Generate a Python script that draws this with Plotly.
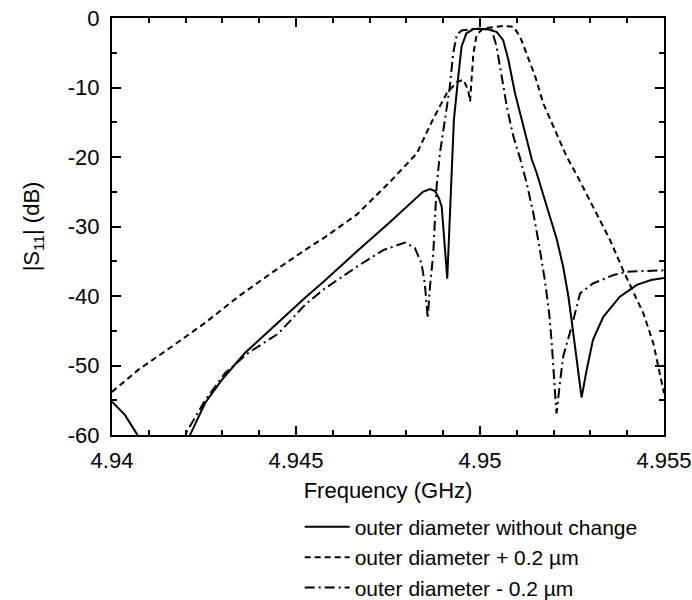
import plotly.graph_objects as go

# ---- data ----
freq_orig = [4.9400, 4.94035, 4.94067, 4.9409, None, 4.9420, 4.94212, 4.94253, 4.94298, 4.94361,
             4.94434, 4.94488, 4.94524, 4.94574, 4.94665, 4.94755, 4.94828, 4.94845, 4.94864,
             4.94878, 4.94889, 4.94896, 4.94911, 4.94918, 4.94929, 4.94941, 4.94950, 4.94963,
             4.94982, 4.95018, 4.95045, 4.95063, 4.95077, 4.95095, 4.95118, 4.95141, 4.95154,
             4.95181, 4.95209, 4.95226, 4.95240, 4.95249, 4.95262, 4.95276, 4.95290, 4.95307,
             4.95335, 4.95380, 4.95426, 4.95465, 4.95500]
s11_orig = [-55.2, -57.1, -59.8, -62.0, None, -62.0, -60.0, -55.4, -52.1, -48.2,
            -44.6, -42.0, -40.3, -38.0, -33.6, -29.4, -25.9, -25.0, -24.6,
            -24.9, -26.0, -27.2, -37.5, -29.1, -14.7, -8.4, -4.1, -2.2,
            -1.6, -1.6, -2.0, -3.2, -6.0, -10.8, -15.6, -20.4, -22.3,
            -27.2, -31.9, -35.8, -40.0, -43.5, -49.2, -54.6, -50.6, -46.3,
            -43.0, -40.1, -38.4, -37.7, -37.4]

freq_plus = [4.9400, 4.94072, 4.94162, 4.94252, 4.94343, 4.94433, 4.94524, 4.94574, 4.94665,
             4.94755, 4.94828, 4.94873, 4.94910, 4.94937, 4.94955, 4.94968, 4.94973, 4.94977,
             4.94982, 4.94991, 4.95009, 4.95063, 4.95091, 4.95109, 4.95127, 4.95150, 4.95172,
             4.95200, 4.95236, 4.95262, 4.95307, 4.95353, 4.95389, 4.95408, 4.95444, 4.95471,
             4.95485, 4.95500]
s11_plus = [-53.8, -50.6, -47.3, -43.9, -40.1, -36.7, -33.4, -31.7, -28.3,
            -23.6, -19.5, -14.5, -10.8, -9.2, -8.9, -10.4, -12.0, -8.4,
            -5.1, -2.4, -1.5, -1.15, -1.25, -2.7, -5.1, -8.4, -12.3,
            -15.6, -20.0, -22.5, -27.2, -31.9, -36.3, -38.5, -42.5, -46.8,
            -50.2, -54.0]

freq_minus = [4.94190, 4.94198, 4.94253, 4.94307, 4.94370, 4.94452, 4.94524, 4.94574, 4.94665,
              4.94737, 4.94796, 4.94823, 4.94841, 4.94850, 4.94858, 4.94864, 4.94873, 4.94882,
              4.94891, 4.94905, 4.94918, 4.94927, 4.94937, 4.94950, 4.94991, 4.95032, 4.95045,
              4.95059, 4.95073, 4.95091, 4.95109, 4.95127, 4.95145, 4.95163, 4.95177, 4.95188,
              4.95195, 4.95204, 4.95208, 4.95217, 4.95226, 4.95249, 4.95272, 4.95307, 4.95362,
              4.95398, 4.95471, 4.95500]
s11_minus = [-61.5, -60.0, -55.0, -51.1, -48.2, -45.4, -41.3, -39.1, -35.8,
             -33.4, -32.3, -33.1, -35.3, -38.2, -43.2, -38.7, -33.9, -24.3,
             -19.5, -14.7, -9.9, -5.1, -2.4, -1.8, -1.5, -1.7, -4.1,
             -8.4, -12.8, -17.1, -20.2, -23.8, -28.1, -33.4, -38.0, -42.5,
             -46.8, -54.0, -56.9, -52.6, -48.7, -44.4, -39.6, -38.2, -37.0,
             -36.5, -36.3, -36.3]

series_names = ["outer diameter without change",
                "outer diameter + 0.2 \u00b5m",
                "outer diameter - 0.2 \u00b5m"]

x_tickvals = [4.94, 4.945, 4.95, 4.955]
x_ticktext = ["4.94", "4.945", "4.95", "4.955"]
y_tickvals = [0, -10, -20, -30, -40, -50, -60]
y_ticktext = ["0", "-10", "-20", "-30", "-40", "-50", "-60"]

FONT = "Liberation Sans, Arial, Helvetica, sans-serif"

fig = go.Figure()
fig.add_trace(go.Scatter(x=freq_orig, y=s11_orig, mode="lines", name=series_names[0],
                         line=dict(color="black", width=2, dash="solid"), connectgaps=False))
fig.add_trace(go.Scatter(x=freq_plus, y=s11_plus, mode="lines", name=series_names[1],
                         line=dict(color="black", width=2, dash="6px,4px")))
fig.add_trace(go.Scatter(x=freq_minus, y=s11_minus, mode="lines", name=series_names[2],
                         line=dict(color="black", width=2, dash="10px,4px,2px,4px")))

axis_common = dict(showline=True, linecolor="black", linewidth=2, mirror="ticks",
                   ticks="inside", ticklen=9, tickwidth=2, tickcolor="black",
                   showgrid=False, zeroline=False,
                   tickfont=dict(family=FONT, size=22, color="black"))

fig.update_xaxes(range=[4.94, 4.955], tickmode="array", tickvals=x_tickvals, ticktext=x_ticktext,
                 minor=dict(tickmode="linear", tick0=4.94, dtick=0.001, ticks="inside",
                            ticklen=5, tickwidth=2, tickcolor="black"),
                 ticklabelstandoff=5,
                 title=dict(text="Frequency (GHz)", font=dict(family=FONT, size=22, color="black"),
                            standoff=10),
                 **axis_common)
fig.update_yaxes(range=[-60, 0], tickmode="array", tickvals=y_tickvals, ticktext=y_ticktext,
                 minor=dict(tickmode="linear", tick0=0, dtick=5, ticks="inside",
                            ticklen=5, tickwidth=2, tickcolor="black"),
                 ticklabelstandoff=6,
                 title=dict(text="|S<sub>11</sub>| (dB)", font=dict(family=FONT, size=22, color="black"),
                            standoff=22),
                 **axis_common)

fig.update_layout(
    width=692, height=600,
    margin=dict(l=112, r=28, t=18, b=165, autoexpand=False),
    paper_bgcolor="white", plot_bgcolor="white",
    font=dict(family=FONT, size=22, color="black"),
    showlegend=True,
    legend=dict(x=0.34, y=-0.172, xanchor="left", yanchor="top",
                bgcolor="rgba(0,0,0,0)", borderwidth=0, tracegroupgap=0,
                itemwidth=45, font=dict(family=FONT, size=21, color="black")),
)

fig.write_html("out.html")
